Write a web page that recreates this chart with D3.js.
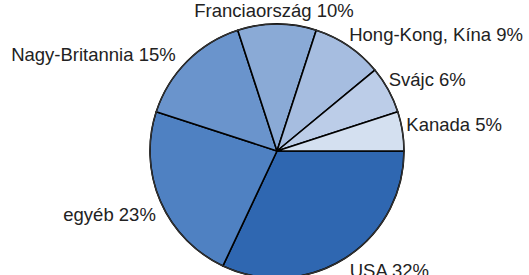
<!DOCTYPE html>
<html>
<head>
<meta charset="utf-8">
<script src="https://cdn.jsdelivr.net/npm/d3@7"></script>
<style>
html,body{margin:0;padding:0;background:#fff;overflow:hidden;}
svg{display:block;}
text{font-family:"Liberation Sans",Arial,sans-serif;fill:#222;}
</style>
</head>
<body>
<svg id="chart" width="529" height="275"></svg>
<script>
const categories = ["USA", "egyéb", "Nagy-Britannia", "Franciaország", "Hong-Kong, Kína", "Svájc", "Kanada"];
const values = [32, 23, 15, 10, 9, 6, 5];
const colors = ["#2f67b1", "#4f81c2", "#6a94cc", "#8aaad6", "#a6bde0", "#bccde8", "#d4e0f0"];
// small manual label nudges (layout only), as in the original's hand-placed labels
const labelNudge = [[0, 0], [2, 7], [-6, 3], [-3, 1], [-4, 0], [-6, -4], [-3, -5]];

const W = 529, H = 275;
const cx = 277, cy = 151, r = 127;
const fs = 18.5;

const svg = d3.select("#chart");
const g = svg.append("g").attr("transform", `translate(${cx},${cy})`);

const data = categories.map((c, i) => ({name: c, value: values[i], color: colors[i], nudge: labelNudge[i]}));
const pie = d3.pie().value(d => d.value).sort(null)
  .startAngle(Math.PI / 2).endAngle(Math.PI / 2 + 2 * Math.PI);
const arcs = pie(data);
const arc = d3.arc().innerRadius(0).outerRadius(r);

g.selectAll("path.slice").data(arcs).join("path")
  .attr("class", "slice")
  .attr("d", arc)
  .attr("fill", d => d.data.color)
  .attr("stroke", "#000")
  .attr("stroke-width", 1.6)
  .attr("stroke-linejoin", "round");

g.append("circle").attr("r", r).attr("fill", "none").attr("stroke", "#333").attr("stroke-width", 1.2);

g.selectAll("text.lbl").data(arcs).join("text")
  .attr("class", "lbl")
  .attr("font-size", fs)
  .each(function(d) {
    const a = (d.startAngle + d.endAngle) / 2;
    const s = Math.sin(a), c = Math.cos(a);
    const R = r + 5;
    const x = R * s, y = -R * c;
    const anchor = Math.abs(s) < 0.2 ? "middle" : (s > 0 ? "start" : "end");
    const baseline = y + fs * 0.36 - c * fs * 0.5;
    const [nx, ny] = d.data.nudge;
    d3.select(this).attr("x", x + (anchor === "start" ? 2 : anchor === "end" ? -2 : 0) + nx)
      .attr("y", baseline + ny)
      .attr("text-anchor", anchor)
      .text(`${d.data.name} ${d.data.value}%`);
  });
</script>
</body>
</html>
